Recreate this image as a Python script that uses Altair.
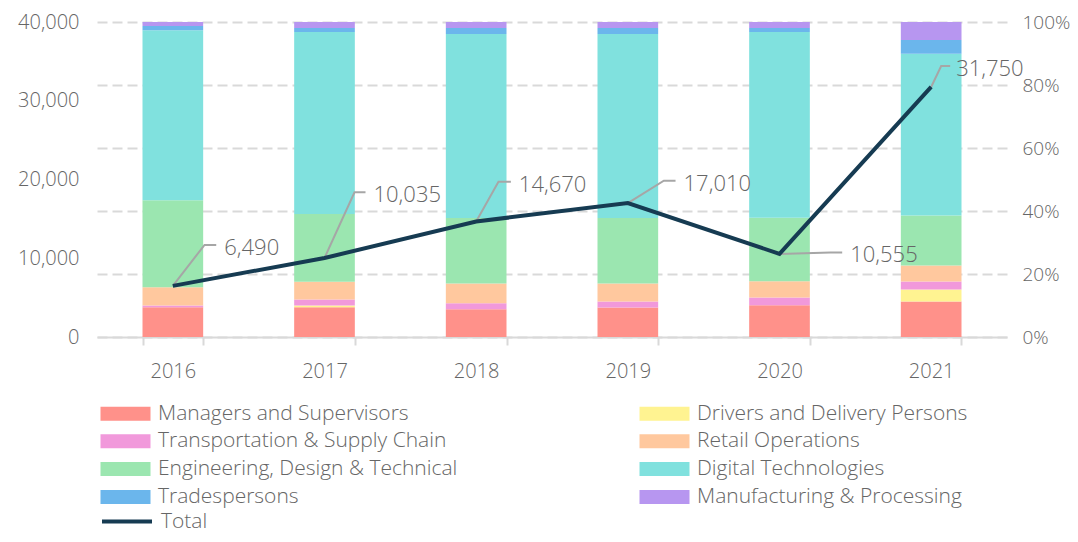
import altair as alt
import pandas as pd

# ---------------- data ----------------
years = ["2016", "2017", "2018", "2019", "2020", "2021"]
categories = [
    "Managers and Supervisors",
    "Drivers and Delivery Persons",
    "Transportation & Supply Chain",
    "Retail Operations",
    "Engineering, Design & Technical",
    "Digital Technologies",
    "Tradespersons",
    "Manufacturing & Processing",
]
# share of each year's total (%), 2016..2021
managers = [9.5, 9.5, 8.8, 9.4, 10.1, 11.3]
drivers = [0.0, 0.5, 0.0, 0.0, 0.0, 3.8]
transport = [0.5, 1.9, 1.9, 1.9, 2.5, 2.5]
retail = [5.8, 5.7, 6.3, 5.7, 5.1, 5.1]
engineering = [27.7, 21.5, 20.8, 20.8, 20.2, 15.9]
digital = [54.1, 57.9, 58.5, 58.5, 59.1, 51.4]
trades = [1.3, 1.3, 1.9, 1.9, 1.3, 4.4]
manufacturing = [1.3, 1.9, 1.9, 1.9, 1.9, 5.7]
totals = [6490, 10035, 14670, 17010, 10555, 31750]
total_name = ["Total"]

# ---------------- styling ----------------
colors = ["#FF918A", "#FFF391", "#F199DB", "#FFC89E", "#9BE6B0", "#80E1DE", "#6BB6EC", "#B796F0"]
total_color = "#163B52"
GRAY = "#666666"
LIGHT = "#D9D9D9"
FONT = "Open Sans"
W, H = 910, 315
YMAX = 40000

# callout leader layout (pixels): elbow dx, elbow rise, horizontal run, gap to text
callout_dx = [31.7, 30.0, 22.3, 36.0, 51.0, 10.0]
callout_rise = [41.0, 65.7, 39.8, 22.3, 1.5, 21.0]
callout_run = [11.7, 11.0, 12.4, 11.7, 11.7, 9.0]
callout_gap = [8.0, 8.0, 8.0, 8.0, 8.0, 6.0]

xu = W / len(years)
yu = H / YMAX

series = [managers, drivers, transport, retail, engineering, digital, trades, manufacturing]
bar_rows = []
for ci, (cat, vals) in enumerate(zip(categories, series)):
    for yi, yr in enumerate(years):
        bar_rows.append({"year": yr, "category": cat, "ci": ci, "share": vals[yi]})
bars_df = pd.DataFrame(bar_rows)

# legend fills column by column: order domain so rows read pairwise like the reference
legend_order = categories[0::2] + categories[1::2]
legend_colors = colors[0::2] + colors[1::2]

line_df = pd.DataFrame({"idx": list(range(len(years))), "year": years, "total": totals,
                        "series": total_name * len(years)})

lead_rows, lab_rows = [], []
for i, (yr, t) in enumerate(zip(years, totals)):
    ex = i + callout_dx[i] / xu
    ey = t + callout_rise[i] / yu
    hx = i + (callout_dx[i] + callout_run[i]) / xu
    lead_rows += [
        {"year": yr, "seq": 0, "lx": i, "ly": t},
        {"year": yr, "seq": 1, "lx": ex, "ly": ey},
        {"year": yr, "seq": 2, "lx": hx, "ly": ey},
    ]
    lab_rows.append({"year": yr,
                     "tx": i + (callout_dx[i] + callout_run[i] + callout_gap[i]) / xu,
                     "ty": ey, "total": t})
lead_df = pd.DataFrame(lead_rows)
lab_df = pd.DataFrame(lab_rows)

axis_font = dict(labelFont=FONT, labelFontSize=20, labelColor=GRAY, labelFontWeight=300)
legend_font = dict(labelFont=FONT, labelFontSize=21, labelFontWeight=300, labelColor=GRAY,
                   labelLimit=600, padding=0, title=None)

rect_path = "M-2.5,-0.7H2.5V0.7H-2.5Z"
line_path = "M-2.5,0H2.5"

legend = alt.Legend(
    orient="none", legendX=18, legendY=381, columns=2,
    symbolType=rect_path, symbolSize=400, symbolStrokeWidth=0,
    labelOffset=22, rowPadding=5.8, columnPadding=181, **legend_font,
)
total_legend = alt.Legend(
    orient="none", legendX=18, legendY=487.5,
    symbolType=line_path, symbolSize=400, symbolStrokeWidth=4,
    labelOffset=22, **legend_font,
)

bars = alt.Chart(bars_df).mark_bar().encode(
    x=alt.X("year:N", title=None, sort=years,
            scale=alt.Scale(paddingInner=0.6, paddingOuter=0.3),
            axis=alt.Axis(tickBand="extent", domainColor=LIGHT, domainWidth=2, tickColor=LIGHT,
                          tickWidth=2, tickSize=8, labelAngle=0, labelPadding=16, grid=False,
                          **axis_font)),
    y=alt.Y("share:Q", stack="normalize", title=None, scale=alt.Scale(domain=[0, 1]),
            axis=alt.Axis(orient="right", format=".0%", values=[0, 0.2, 0.4, 0.6, 0.8, 1],
                          grid=True, gridColor=LIGHT, gridDash=[10, 5], gridWidth=2,
                          domain=False, ticks=False, labelPadding=15,
                          labelFont=FONT, labelFontSize=19, labelColor=GRAY,
                          labelFontWeight=300)),
    color=alt.Color("category:N", scale=alt.Scale(domain=legend_order, range=legend_colors),
                    legend=legend),
    order=alt.Order("ci:Q"),
)

xscale = alt.Scale(domain=[-0.5, len(years) - 0.5], nice=False, zero=False)
yscale = alt.Scale(domain=[0, YMAX], nice=False)
left_axis = alt.Axis(orient="left", values=[0, 10000, 20000, 30000, 40000],
                     labelExpr="format(datum.value, ',')",
                     grid=False, domain=False, ticks=False, labelPadding=18, **axis_font)

leaders = alt.Chart(lead_df).mark_line(color="#A6A6A6", strokeWidth=2).encode(
    x=alt.X("lx:Q", scale=xscale, axis=None, title=None),
    y=alt.Y("ly:Q", scale=yscale, axis=left_axis, title=None),
    detail="year:N",
    order="seq:Q",
)

line = alt.Chart(line_df).mark_line(strokeWidth=4).encode(
    x=alt.X("idx:Q", scale=xscale, axis=None, title=None),
    y=alt.Y("total:Q", scale=yscale, axis=left_axis, title=None),
    stroke=alt.Stroke("series:N", scale=alt.Scale(domain=total_name, range=[total_color]),
                      legend=total_legend),
)

labels = alt.Chart(lab_df).mark_text(
    align="left", baseline="middle", dy=3, font=FONT, fontSize=22, fontWeight=300, color=GRAY
).encode(
    x=alt.X("tx:Q", scale=xscale, axis=None, title=None),
    y=alt.Y("ty:Q", scale=yscale, axis=left_axis, title=None),
    text=alt.Text("total:Q", format=","),
)

inner = alt.layer(leaders, line, labels)

chart = alt.layer(bars, inner).resolve_scale(x="independent", y="independent").properties(
    width=W, height=H,
    padding={"left": 89, "top": 14, "right": 63, "bottom": 197},
    autosize=alt.AutoSizeParams(type="none"),
).configure_view(stroke=None)

chart.save("out.html", embed_options={"renderer": "svg", "actions": False})
